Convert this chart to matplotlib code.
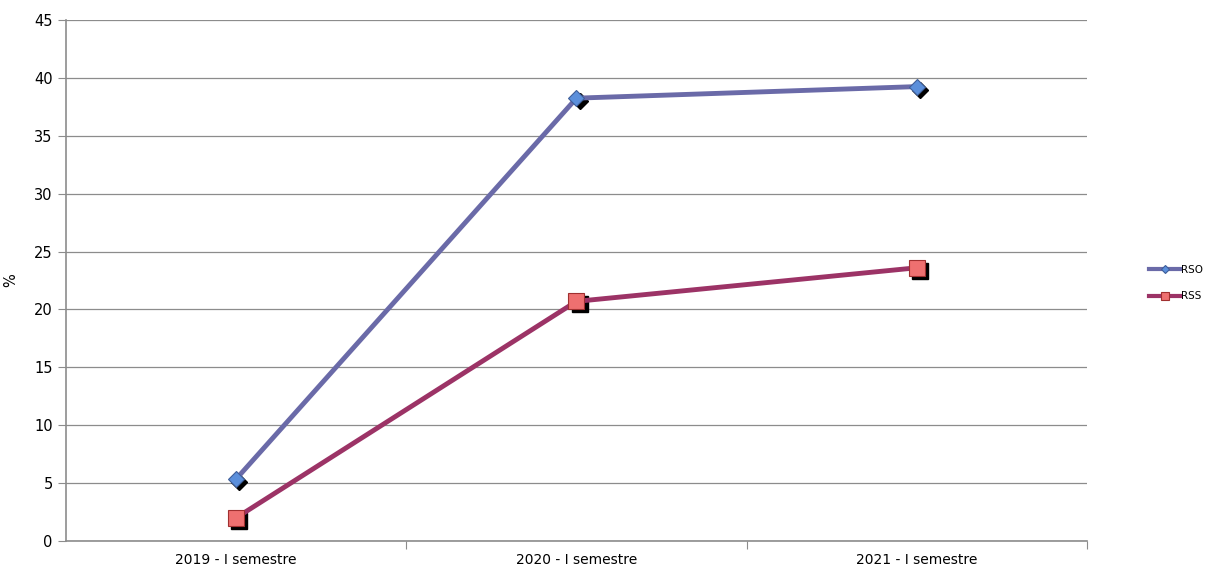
import matplotlib.pyplot as plt
from matplotlib.transforms import offset_copy

categories = ['2019 - I semestre', '2020 - I semestre', '2021 - I semestre']
rso = [5.35, 38.25, 39.25]
rss = [2.0, 20.7, 23.6]

fig = plt.figure(figsize=(12.19, 5.72), dpi=100)
ax = fig.add_axes([0.0541, 0.0542, 0.8376, 0.9108])

x = list(range(len(categories)))

# black drop shadows behind the markers
shadow = offset_copy(ax.transData, fig=fig, x=2.2, y=-2.2, units='points')
ax.plot(x, rso, linestyle='none', marker='D', markersize=8, color='black',
        transform=shadow, zorder=3)
ax.plot(x, rss, linestyle='none', marker='s', markersize=11, color='black',
        transform=shadow, zorder=3)

ax.plot(x, rso, color='#6A6AA8', linewidth=3.5, marker='D', markersize=8,
        markerfacecolor='#5B8FDB', markeredgecolor='#3E5E99', markeredgewidth=0.8,
        label='RSO', zorder=4)
ax.plot(x, rss, color='#9C3366', linewidth=3.5, marker='s', markersize=11,
        markerfacecolor='#EE7070', markeredgecolor='#A03030', markeredgewidth=0.8,
        label='RSS', zorder=4)

ax.set_xlim(-0.5, 2.5)
ax.set_ylim(0, 45)
ax.set_yticks(range(0, 46, 5))
ax.yaxis.grid(True, color='#8c8c8c', linewidth=0.9)
ax.set_axisbelow(True)

ax.set_xticks([0.5, 1.5, 2.5])
ax.set_xticklabels([])
ax.set_xticks(x, minor=True)
ax.set_xticklabels(categories, minor=True)
ax.tick_params(axis='x', which='minor', length=0, labelsize=10, pad=9)
ax.tick_params(axis='x', which='major', length=6, color='#8c8c8c')
ax.tick_params(axis='y', length=6, color='#8c8c8c', labelsize=10.5)

for side in ['top', 'right']:
    ax.spines[side].set_visible(False)
for side in ['left', 'bottom']:
    ax.spines[side].set_color('#8c8c8c')
    ax.spines[side].set_linewidth(1.2)

ax.set_ylabel('%', fontsize=10.5)
ax.yaxis.set_label_coords(-0.047, 0.5)

leg = fig.legend(loc='center left', bbox_to_anchor=(0.935, 0.505), frameon=False,
                 fontsize=7.5, handlelength=3, handletextpad=0.1, labelspacing=1.6,
                 markerscale=0.5)
for h in leg.legend_handles:
    h.set_linewidth(3)

fig.savefig('out.png', dpi=100)
